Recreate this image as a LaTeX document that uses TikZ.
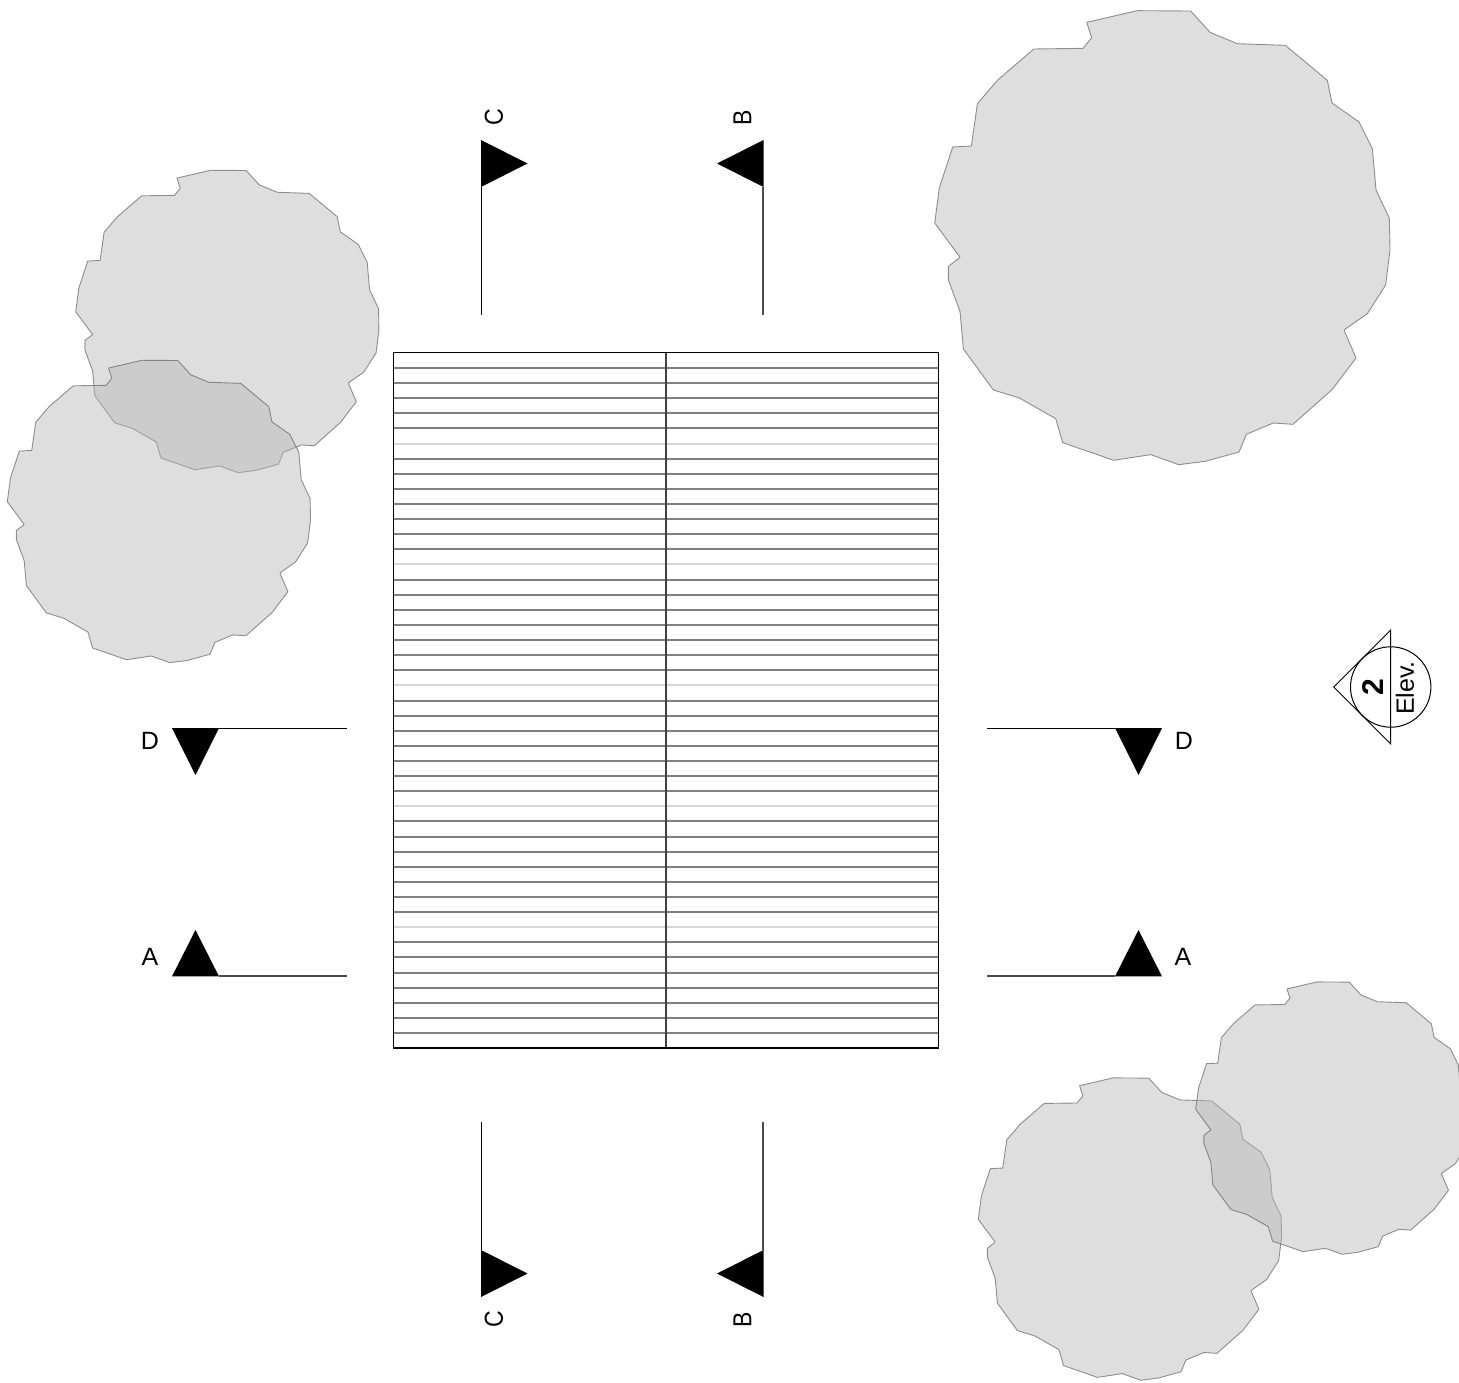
\documentclass[tikz,border=0pt]{standalone}
\usepackage{fontspec}
\setmainfont{Liberation Sans}
\newcommand{\treeat}[3]{%
  \filldraw[treeblob, shift={(#1,#2)}, scale=#3/3, shift={(-29,-669)}]
  (485,67) -- (636,32) -- (797,33) -- (855,97) -- (937,131) -- (1081,136) -- (1207,241) -- (1221,309)
  -- (1302,366) -- (1342,446) -- (1353,570) -- (1393,655) -- (1395,750) -- (1382,855) -- (1327,941)
  -- (1257,990) -- (1293,1074) -- (1222,1168) -- (1104,1273) -- (1045,1269) -- (964,1303) -- (942,1356)
  -- (840,1384) -- (761,1394) -- (677,1364) -- (566,1381) -- (413,1328) -- (392,1256) -- (283,1194)
  -- (205,1170) -- (115,1047) -- (105,935) -- (70,840) -- (70,799) -- (105,772) -- (29,669) -- (43,563)
  -- (83,441) -- (139,438) -- (157,311) -- (218,240) -- (326,147) -- (474,145) -- (500,113) -- cycle;}
\definecolor{treefill}{HTML}{B6B6B6}
\definecolor{treeline}{HTML}{5A5A5A}
\tikzset{
  treeblob/.style={fill=treefill, fill opacity=0.45, draw=treeline, draw opacity=0.65, line width=0.9pt, line join=round},
  boardline/.style={draw=black!50, line width=1.7pt},
  seamline/.style={draw=black!16, line width=1.8pt},
  frameline/.style={draw=black, line width=1.2pt},
  ridgeline/.style={draw=black!75, line width=2pt},
  cutline/.style={draw=black, line width=1pt},
  flag/.style={fill=black, draw=none},
  cutlabel/.style={font=\fontsize{25}{25}\selectfont, inner sep=0pt, text=black},
}
\newcommand{\narrow}[1]{\scalebox{0.92}[1.04]{#1}}
\begin{document}
\begin{tikzpicture}[x=1pt, y=-1pt]
\useasboundingbox (0,0) rectangle (1459,1383);
\clip (0,0) rectangle (1459,1383);
% trees
\treeat{934.7}{223}{1}
\treeat{75.7}{311.7}{0.666}
\treeat{7.3}{501.7}{0.666}
\treeat{978.3}{1219.3}{0.666}
\treeat{1195.7}{1109.3}{0.6}
% boards
\foreach \i in {0,...,44}{
  \pgfmathsetmacro{\yy}{round(368+15.114*\i)}
  \pgfmathtruncatemacro{\mm}{mod(\i,8)}
  \ifnum\mm=5
    \draw[seamline] (394,\yy) -- (938.3,\yy);
  \else
    \draw[boardline] (394,\yy) -- (938.3,\yy);
  \fi
}
\draw[ridgeline] (666,352.7) -- (666,1048);
\draw[frameline] (393.7,352.7) rectangle (938.3,1048);
% section C top
\coordinate (ct) at (481.5,187);
\coordinate (cte) at (481.5,315);
\draw[cutline] (ct) -- (cte);
\fill[flag] (481,140) -- (527.5,163.5) -- (481,187) -- cycle;
\node[cutlabel, rotate=90] (lct) at (494,117.5) {\narrow{C}};
% section B top
\coordinate (bt) at (763,187);
\coordinate (bte) at (763,315);
\draw[cutline, draw=black!70, line width=1.4pt] (bt) -- (bte);
\fill[flag] (763.5,140) -- (717,163.5) -- (763.5,187) -- cycle;
\node[cutlabel, rotate=90] (lbt) at (742.3,118) {\narrow{B}};
% section C bottom
\coordinate (cb) at (481.5,1250);
\coordinate (cbe) at (481.5,1122);
\draw[cutline] (cb) -- (cbe);
\fill[flag] (481,1250) -- (527.5,1273.5) -- (481,1297) -- cycle;
\node[cutlabel, rotate=90] (lcb) at (494,1319.5) {\narrow{C}};
% section B bottom
\coordinate (bb) at (763,1250);
\coordinate (bbe) at (763,1122);
\draw[cutline, draw=black!70, line width=1.4pt] (bb) -- (bbe);
\fill[flag] (763.5,1250) -- (717,1273.5) -- (763.5,1297) -- cycle;
\node[cutlabel, rotate=90] (lbb) at (742.3,1320) {\narrow{B}};
% section D
\coordinate (dl) at (219,728.5);
\coordinate (dle) at (347,728.5);
\draw[cutline] (dl) -- (dle);
\fill[flag] (172,728) -- (219,728) -- (195.5,775) -- cycle;
\node[cutlabel] (ldl) at (150,741) {D};
\coordinate (dr) at (1115,728.5);
\coordinate (dre) at (987,728.5);
\draw[cutline] (dr) -- (dre);
\fill[flag] (1115,728) -- (1162,728) -- (1138.5,775) -- cycle;
\node[cutlabel] (ldr) at (1184,741) {D};
% section A
\coordinate (al) at (219,976);
\coordinate (ale) at (347,976);
\draw[cutline, draw=black!70, line width=1.4pt] (al) -- (ale);
\fill[flag] (172,976.4) -- (219,976.4) -- (195.5,930) -- cycle;
\node[cutlabel] (lal) at (150,957) {A};
\coordinate (ar) at (1115,976);
\coordinate (are) at (987,976);
\draw[cutline, draw=black!70, line width=1.4pt] (ar) -- (are);
\fill[flag] (1115,976.4) -- (1162,976.4) -- (1138.5,930) -- cycle;
\node[cutlabel] (lar) at (1183,957) {A};
% elevation symbol
\coordinate (eapex) at (1333.7,687);
\coordinate (etop) at (1390.7,630);
\coordinate (ebot) at (1390.7,744);
\draw[cutline] (etop) -- (eapex) -- (ebot) -- cycle;
\draw[cutline] (1390.7,687) circle (40.2);
\node[font=\fontsize{30}{30}\selectfont\bfseries, rotate=90, inner sep=0pt] (enum) at (1373,687.5) {2};
\node[cutlabel, rotate=90] (etxt) at (1405,688) {Elev.};
\end{tikzpicture}
\end{document}
